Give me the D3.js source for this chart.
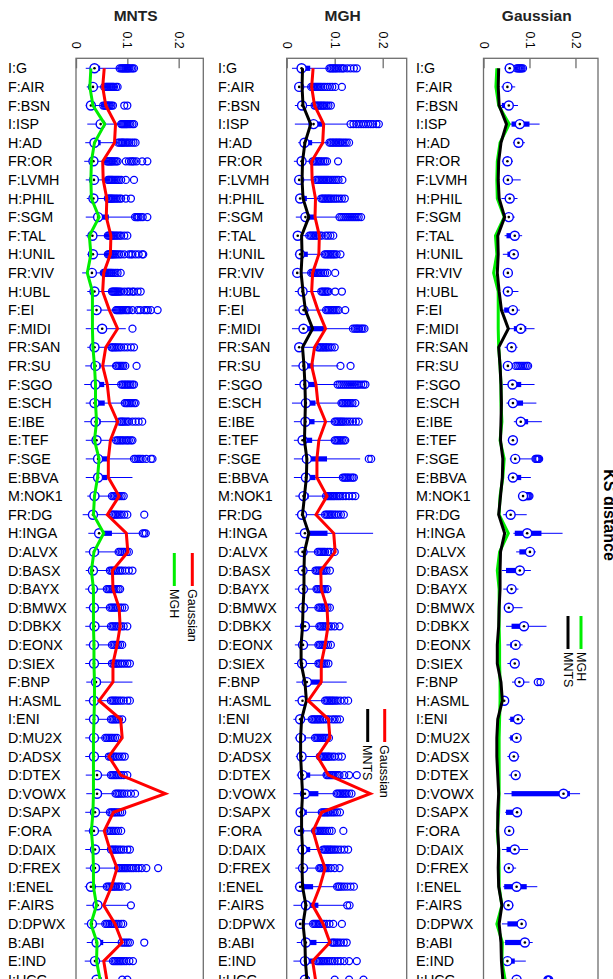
<!DOCTYPE html>
<html>
<head>
<meta charset="utf-8">
<script src="https://cdn.jsdelivr.net/npm/d3@7"></script>
<style>
  body { margin: 0; background: #fff; }
  svg { display: block; font-family: "Liberation Sans", Arial, Helvetica, sans-serif; }
</style>
</head>
<body>
<svg id="chart" width="613" height="979"></svg>
<script>
// stocks, top to bottom
var cats = ["I:G","F:AIR","F:BSN","I:ISP","H:AD","FR:OR","F:LVMH","H:PHIL","F:SGM","F:TAL",
  "H:UNIL","FR:VIV","H:UBL","F:EI","F:MIDI","FR:SAN","FR:SU","F:SGO","E:SCH","E:IBE",
  "E:TEF","F:SGE","E:BBVA","M:NOK1","FR:DG","H:INGA","D:ALVX","D:BASX","D:BAYX","D:BMWX",
  "D:DBKX","D:EONX","D:SIEX","F:BNP","H:ASML","I:ENI","D:MU2X","D:ADSX","D:DTEX","D:VOWX",
  "D:SAPX","F:ORA","D:DAIX","D:FREX","I:ENEL","F:AIRS","D:DPWX","B:ABI","E:IND","I:UCG"];

var ticks = [0, 0.1, 0.2];

// KS distance of each fitted model, one value per stock (the lines)
var mntsLine = [0.033,0.032,0.034,0.050,0.038,0.033,0.032,0.034,0.046,0.031,0.032,0.030,0.034,0.039,0.054,0.033,0.036,0.038,0.039,0.038,0.037,0.042,0.041,0.037,0.033,
  0.046,0.037,0.036,0.036,0.034,0.033,0.030,0.030,0.038,0.041,0.031,0.029,0.029,0.031,0.033,0.031,0.031,0.033,0.032,0.033,0.040,0.034,0.038,0.039,0.042];
var mghLine = [0.029,0.027,0.033,0.056,0.036,0.030,0.029,0.030,0.045,0.026,0.029,0.022,0.032,0.032,0.032,0.033,0.036,0.038,0.038,0.040,0.036,0.045,0.042,0.036,0.034,
  0.054,0.035,0.030,0.034,0.034,0.034,0.035,0.035,0.036,0.036,0.035,0.034,0.034,0.034,0.034,0.033,0.030,0.033,0.034,0.034,0.040,0.029,0.041,0.040,0.047];
var gaussLine = [0.055,0.052,0.058,0.077,0.075,0.052,0.053,0.060,0.059,0.068,0.067,0.054,0.052,0.065,0.081,0.058,0.052,0.061,0.065,0.081,0.067,0.063,0.063,0.084,0.061,
  0.098,0.101,0.071,0.072,0.084,0.086,0.080,0.072,0.072,0.045,0.087,0.090,0.064,0.087,0.174,0.073,0.055,0.066,0.080,0.069,0.054,0.076,0.090,0.054,0.060];

// boxplot stats [whisker lo, q1, median, q3, whisker hi] and outliers
var mntsStats = [
  [0.019,0.032,0.036,0.047,0.084],[0.021,0.030,0.033,0.036,0.053],[0.019,0.025,0.029,0.035,0.051],[0.022,0.042,0.048,0.055,0.087],[0.018,0.032,0.036,0.048,0.081],
  [0.016,0.030,0.034,0.038,0.058],[0.019,0.032,0.035,0.038,0.061],[0.021,0.030,0.034,0.038,0.061],[0.019,0.038,0.043,0.064,0.113],[0.019,0.029,0.032,0.036,0.061],
  [0.022,0.030,0.033,0.036,0.061],[0.012,0.027,0.031,0.035,0.053],[0.022,0.034,0.036,0.043,0.069],[0.021,0.036,0.040,0.049,0.077],[0.019,0.042,0.051,0.060,0.097],
  [0.022,0.034,0.036,0.042,0.068],[0.018,0.034,0.038,0.048,0.077],[0.016,0.034,0.038,0.055,0.087],[0.019,0.032,0.036,0.056,0.094],[0.016,0.034,0.038,0.048,0.084],
  [0.019,0.035,0.040,0.048,0.077],[0.019,0.035,0.043,0.064,0.110],[0.019,0.035,0.043,0.061,0.110],[0.022,0.032,0.036,0.045,0.069],[0.013,0.028,0.033,0.037,0.068],
  [0.024,0.043,0.045,0.070,0.126],[0.018,0.033,0.035,0.045,0.080],[0.019,0.030,0.033,0.038,0.063],[0.018,0.030,0.033,0.038,0.058],[0.019,0.031,0.035,0.042,0.064],
  [0.018,0.031,0.036,0.045,0.066],[0.019,0.031,0.035,0.040,0.068],[0.018,0.031,0.035,0.040,0.068],[0.020,0.034,0.039,0.048,0.110],[0.018,0.031,0.035,0.040,0.066],
  [0.018,0.031,0.035,0.040,0.066],[0.018,0.031,0.035,0.039,0.055],[0.018,0.031,0.035,0.040,0.062],[0.019,0.033,0.041,0.048,0.066],[0.020,0.033,0.041,0.050,0.075],
  [0.018,0.031,0.037,0.043,0.064],[0.017,0.030,0.035,0.040,0.060],[0.018,0.031,0.037,0.044,0.066],[0.019,0.032,0.037,0.046,0.080],[0.017,0.026,0.029,0.035,0.058],
  [0.020,0.037,0.042,0.050,0.102],[0.016,0.027,0.031,0.036,0.055],[0.021,0.036,0.040,0.053,0.086],[0.017,0.033,0.037,0.045,0.070],[0.020,0.034,0.040,0.050,0.080]];
var mntsOut = [
  [0.085,0.088,0.09,0.092,0.094,0.096,0.098,0.1,0.102,0.104,0.107,0.11,0.113],
  [0.055,0.058,0.06,0.062,0.064,0.066,0.068,0.07,0.072,0.074,0.078,0.081],
  [0.053,0.056,0.058,0.06,0.062,0.064,0.066,0.069,0.072,0.094,0.1],
  [0.088,0.09,0.092,0.094,0.096,0.098,0.1,0.103,0.106,0.11,0.113],
  [0.082,0.085,0.088,0.09,0.092,0.095,0.098,0.101,0.104,0.108,0.112,0.116],
  [0.06,0.062,0.064,0.066,0.068,0.07,0.072,0.075,0.078,0.081,0.097,0.103,0.107,0.11,0.113,0.118,0.129,0.139],
  [0.062,0.064,0.066,0.068,0.07,0.072,0.075,0.078,0.081,0.084,0.088,0.097,0.113],
  [0.062,0.064,0.066,0.068,0.07,0.072,0.075,0.078,0.081,0.085,0.088,0.097,0.107],
  [0.115,0.118,0.12,0.122,0.126,0.13,0.139],
  [0.062,0.064,0.066,0.068,0.07,0.072,0.075,0.078,0.081,0.085,0.088,0.094,0.1],
  [0.062,0.064,0.066,0.068,0.07,0.072,0.074,0.077,0.08,0.084,0.088,0.094,0.103,0.107,0.11,0.116,0.122,0.129,0.131],
  [0.054,0.056,0.058,0.06,0.062,0.064,0.066,0.068,0.07,0.073,0.077,0.081,0.087],
  [0.07,0.072,0.074,0.076,0.078,0.08,0.082,0.085,0.088,0.094,0.1,0.104,0.11,0.113,0.12,0.126],
  [0.078,0.08,0.082,0.084,0.086,0.088,0.09,0.093,0.097,0.1,0.103,0.11,0.12,0.125,0.133,0.137,0.14,0.146,0.159],
  [0.110],
  [0.069,0.071,0.074,0.077,0.08,0.084,0.088,0.094,0.1,0.107,0.113],
  [0.078,0.08,0.083,0.086,0.089,0.092,0.096,0.118],
  [0.088,0.091,0.094,0.097,0.1,0.103,0.106,0.11,0.113],
  [0.095,0.098,0.1,0.103,0.106,0.109,0.113,0.116],
  [0.085,0.088,0.09,0.093,0.096,0.1,0.103,0.11,0.116,0.122,0.129],
  [0.078,0.081,0.084,0.087,0.09,0.093,0.097,0.1,0.103,0.107,0.11],
  [0.113,0.116,0.12,0.123,0.126,0.13,0.137,0.146,0.149],
  [],
  [0.07,0.073,0.076,0.079,0.082,0.085,0.089,0.093],
  [0.07,0.072,0.075,0.078,0.081,0.085,0.089,0.094,0.1,0.133],
  [0.13,0.133,0.136],
  [0.083,0.086,0.089,0.092,0.095,0.099,0.103],
  [0.066,0.069,0.072,0.075,0.078,0.082,0.086,0.09,0.096,0.103,0.11],
  [0.06,0.063,0.066,0.069,0.072,0.075,0.079,0.083,0.086],
  [0.066,0.069,0.072,0.075,0.078,0.082,0.086,0.09,0.095],
  [0.068,0.071,0.074,0.077,0.08,0.084,0.088,0.093,0.1],
  [0.07,0.073,0.076,0.079,0.082,0.086,0.09],
  [0.07,0.073,0.076,0.079,0.082,0.086,0.09,0.095,0.1,0.105],
  [],
  [0.068,0.071,0.074,0.077,0.08,0.084,0.088,0.093,0.1,0.105],
  [0.068,0.071,0.074,0.077,0.08,0.084,0.09],
  [0.057,0.06,0.063,0.066,0.069,0.072,0.076,0.08],
  [0.064,0.067,0.07,0.073,0.076,0.08,0.085,0.09,0.095],
  [0.068,0.071,0.074,0.077,0.08,0.084,0.088,0.093,0.1],
  [0.077,0.08,0.083,0.086,0.09,0.094,0.1,0.107,0.115],
  [0.066,0.069,0.072,0.075,0.078,0.082,0.086,0.09],
  [0.062,0.065,0.068,0.071,0.074,0.078,0.082,0.088],
  [0.068,0.071,0.074,0.077,0.08,0.084,0.088,0.093,0.1,0.105],
  [0.082,0.085,0.088,0.091,0.094,0.097,0.1,0.104,0.108,0.112,0.117,0.122,0.128,0.137,0.16],
  [0.06,0.063,0.066,0.069,0.072,0.075,0.078,0.082,0.085,0.089,0.1],
  [0.107],
  [0.057,0.06,0.063,0.066,0.069,0.072,0.075,0.079,0.083,0.088,0.092],
  [0.089,0.093,0.097,0.101,0.105,0.133],
  [0.072,0.075,0.078,0.081,0.084,0.087,0.09,0.094,0.098,0.104,0.111],
  [0.09,0.1]];

var mghStats = [
  [0.011,0.028,0.031,0.049,0.087],[0.018,0.024,0.026,0.032,0.049],[0.017,0.027,0.032,0.035,0.056],[0.017,0.046,0.056,0.074,0.129],[0.024,0.032,0.037,0.053,0.087],
  [0.015,0.028,0.031,0.035,0.053],[0.015,0.024,0.026,0.032,0.060],[0.018,0.026,0.028,0.042,0.070],[0.019,0.033,0.039,0.060,0.108],[0.015,0.020,0.023,0.028,0.046],
  [0.017,0.025,0.028,0.044,0.077],[0.011,0.018,0.022,0.028,0.049],[0.017,0.030,0.033,0.039,0.070],[0.017,0.032,0.035,0.042,0.080],[0.011,0.028,0.035,0.080,0.136],
  [0.017,0.024,0.026,0.035,0.063],[0.010,0.030,0.035,0.056,0.108],[0.017,0.032,0.037,0.060,0.105],[0.011,0.034,0.040,0.060,0.112],[0.015,0.035,0.039,0.058,0.098],
  [0.015,0.030,0.033,0.053,0.098],[0.015,0.032,0.042,0.084,0.153],[0.015,0.035,0.040,0.060,0.115],[0.018,0.030,0.035,0.046,0.080],[0.018,0.028,0.032,0.038,0.078],
  [0.018,0.036,0.038,0.085,0.180],[0.016,0.030,0.033,0.040,0.062],[0.016,0.030,0.033,0.040,0.058],[0.017,0.030,0.034,0.040,0.060],[0.017,0.030,0.034,0.042,0.064],
  [0.017,0.032,0.038,0.046,0.066],[0.017,0.030,0.034,0.040,0.064],[0.016,0.029,0.032,0.038,0.064],[0.020,0.035,0.042,0.073,0.125],[0.017,0.030,0.033,0.038,0.078],
  [0.014,0.025,0.028,0.033,0.050],[0.017,0.026,0.029,0.040,0.057],[0.019,0.028,0.031,0.036,0.066],[0.021,0.030,0.033,0.049,0.080],[0.014,0.034,0.038,0.066,0.100],
  [0.021,0.026,0.029,0.042,0.070],[0.017,0.024,0.026,0.031,0.056],[0.021,0.030,0.033,0.049,0.074],[0.018,0.030,0.034,0.042,0.066],[0.017,0.026,0.028,0.055,0.102],
  [0.014,0.036,0.040,0.066,0.122],[0.021,0.026,0.028,0.034,0.053],[0.021,0.036,0.040,0.062,0.090],[0.014,0.034,0.038,0.055,0.060],[0.018,0.032,0.038,0.048,0.070]];
var mghOut = [
  [0.089,0.092,0.095,0.098,0.101,0.104,0.108,0.112,0.116,0.119,0.126,0.133,0.14,0.146],
  [0.051,0.054,0.057,0.06,0.063,0.066,0.069,0.072,0.076,0.08,0.085,0.09,0.095,0.101,0.115],
  [0.058,0.061,0.064,0.067,0.07,0.073,0.076,0.079,0.083,0.087,0.092],
  [0.133,0.139,0.145,0.15,0.155,0.16,0.165,0.17,0.175,0.18,0.187,0.192],
  [0.089,0.092,0.095,0.098,0.101,0.104,0.107,0.11,0.113,0.117,0.121,0.125,0.13],
  [0.054,0.057,0.06,0.063,0.066,0.069,0.072,0.076,0.08,0.084,0.107],
  [0.061,0.064,0.067,0.07,0.073,0.076,0.079,0.082,0.085,0.088,0.092,0.096,0.1,0.104,0.108,0.116],
  [0.072,0.075,0.078,0.081,0.084,0.087,0.09,0.093,0.097,0.101,0.105,0.11,0.115,0.121],
  [0.11,0.114,0.118,0.122,0.126,0.13,0.134,0.138,0.142,0.146,0.15,0.155],
  [0.047,0.05,0.053,0.056,0.059,0.062,0.065,0.069,0.073,0.081,0.086,0.091,0.097],
  [0.079,0.082,0.085,0.088,0.091,0.094,0.097,0.1,0.104,0.112],
  [0.051,0.054,0.057,0.06,0.063,0.066,0.069,0.072,0.076,0.08,0.085,0.101],
  [0.072,0.075,0.078,0.081,0.084,0.087,0.101,0.115],
  [0.082,0.085,0.088,0.091,0.094,0.097,0.1,0.104,0.108,0.122],
  [0.138,0.142,0.145,0.148,0.151,0.155,0.158,0.162],
  [0.065,0.068,0.071,0.074,0.077,0.08,0.083,0.086,0.09,0.094,0.1],
  [0.112,0.133],
  [0.106,0.11,0.114,0.118,0.122,0.126,0.13,0.134,0.138,0.142,0.146,0.15,0.155,0.16,0.164],
  [0.114,0.117,0.12,0.123,0.126,0.129,0.133,0.137,0.143],
  [0.1,0.103,0.106,0.109,0.112,0.115,0.118,0.122,0.127,0.132,0.138,0.144,0.15],
  [0.1,0.103,0.106,0.109,0.112,0.115,0.119,0.122],
  [0.171,0.176],
  [0.117,0.12,0.123,0.126,0.129,0.133,0.137,0.14],
  [0.082,0.085,0.088,0.091,0.094,0.097,0.1,0.104,0.108,0.112,0.117,0.123,0.13,0.137,0.143],
  [0.08,0.083,0.086,0.089,0.092,0.095,0.099,0.103,0.108,0.113,0.119],
  [],
  [0.065,0.068,0.071,0.074,0.077,0.08,0.085,0.09,0.1],
  [0.06,0.063,0.066,0.069,0.072,0.075,0.079,0.083,0.09],
  [0.062,0.065,0.068,0.071,0.074,0.077,0.08,0.085],
  [0.066,0.069,0.072,0.075,0.078,0.081,0.085,0.09],
  [0.068,0.071,0.074,0.077,0.08,0.084,0.088,0.093,0.1,0.11],
  [0.066,0.069,0.072,0.075,0.078,0.082,0.086,0.092],
  [0.066,0.069,0.072,0.075,0.078,0.082,0.087],
  [],
  [0.08,0.083,0.086,0.089,0.092,0.095,0.098,0.102,0.106,0.112,0.12,0.128],
  [0.052,0.055,0.058,0.061,0.064,0.067,0.07,0.074,0.078,0.083,0.088,0.095,0.1,0.105,0.111],
  [0.059,0.062,0.065,0.068,0.071,0.074,0.077,0.08,0.084,0.088],
  [0.069,0.072,0.075,0.078,0.081,0.084,0.087,0.09,0.095,0.1,0.108,0.115],
  [0.083,0.086,0.089,0.092,0.095,0.098,0.102,0.106,0.11,0.12,0.13,0.146],
  [0.104,0.107,0.11,0.113,0.116,0.119,0.122,0.125,0.13,0.135],
  [0.073,0.076,0.079,0.082,0.085,0.088,0.092,0.096,0.1,0.105,0.111],
  [0.059,0.062,0.065,0.068,0.071,0.074,0.077,0.08,0.084,0.089,0.094,0.118],
  [0.076,0.079,0.082,0.085,0.088,0.091,0.094,0.098,0.102,0.107,0.113,0.12,0.128],
  [0.068,0.071,0.074,0.077,0.08,0.083,0.087,0.092,0.1,0.11],
  [0.105,0.108,0.111,0.115,0.12,0.126,0.133,0.14],
  [0.126,0.131],
  [0.055,0.058,0.061,0.064,0.067,0.07,0.074,0.078,0.083,0.089,0.097,0.115],
  [0.094,0.097,0.1,0.104,0.108,0.113,0.119,0.125],
  [0.063,0.066,0.069,0.072,0.075,0.078,0.082,0.086,0.09,0.095,0.1,0.106,0.112,0.12,0.13,0.146],
  [0.1,0.13,0.16]];

var gaussStats = [
  [0.046,0.053,0.057,0.062,0.068],[0.039,0.048,0.052,0.056,0.069],[0.037,0.040,0.055,0.058,0.075],[0.057,0.061,0.079,0.100,0.122],[0.064,0.073,0.076,0.080,0.090],
  [0.040,0.049,0.052,0.055,0.064],[0.042,0.050,0.053,0.058,0.081],[0.039,0.053,0.057,0.060,0.074],[0.046,0.052,0.055,0.058,0.068],[0.046,0.050,0.068,0.070,0.084],
  [0.042,0.052,0.066,0.068,0.076],[0.046,0.051,0.053,0.056,0.061],[0.042,0.050,0.053,0.058,0.076],[0.042,0.045,0.064,0.066,0.079],[0.053,0.066,0.081,0.093,0.111],
  [0.046,0.056,0.061,0.064,0.074],[0.046,0.050,0.053,0.057,0.062],[0.042,0.058,0.063,0.082,0.111],[0.050,0.060,0.064,0.086,0.115],[0.066,0.076,0.081,0.097,0.127],
  [0.053,0.060,0.064,0.067,0.075],[0.057,0.064,0.069,0.075,0.105],[0.053,0.062,0.064,0.082,0.103],[0.078,0.083,0.086,0.088,0.090],[0.043,0.052,0.059,0.066,0.094],
  [0.065,0.068,0.095,0.126,0.172],[0.071,0.078,0.101,0.104,0.114],[0.040,0.049,0.079,0.080,0.103],[0.043,0.055,0.061,0.064,0.076],[0.045,0.051,0.055,0.060,0.085],
  [0.049,0.061,0.088,0.090,0.137],[0.050,0.058,0.070,0.072,0.085],[0.052,0.058,0.068,0.070,0.078],[0.062,0.070,0.078,0.080,0.100],[0.040,0.042,0.045,0.048,0.050],
  [0.055,0.058,0.075,0.077,0.090],[0.055,0.058,0.072,0.074,0.080],[0.052,0.062,0.066,0.070,0.078],[0.055,0.062,0.070,0.072,0.080],[0.045,0.061,0.174,0.188,0.210],
  [0.047,0.049,0.073,0.075,0.081],[0.045,0.052,0.056,0.059,0.065],[0.040,0.050,0.068,0.070,0.097],[0.047,0.051,0.055,0.058,0.071],[0.043,0.045,0.072,0.094,0.117],
  [0.049,0.051,0.054,0.057,0.065],[0.040,0.052,0.083,0.085,0.087],[0.046,0.047,0.090,0.092,0.107],[0.043,0.049,0.052,0.068,0.092],[0.050,0.065,0.072,0.080,0.100]];
var gaussOut = [
  [0.072,0.075,0.077,0.079,0.081,0.083,0.086],[],[],[],[],
  [],[],[],[],[],
  [],[],[],[],[],
  [],[0.07,0.074,0.078,0.082,0.086,0.09,0.094,0.097],[],[],[],
  [],[0.113,0.115,0.117,0.119,0.121],[],[0.092,0.094,0.096,0.098,0.1],[],
  [],[],[],[],[],
  [],[],[],[0.118,0.124],[],
  [],[],[],[],[],
  [],[],[],[],[],
  [],[],[],[],[0.139,0.141,0.143]];

var blue = "#0000ff", red = "#ff0000", green = "#00ee00", black = "#000000";

var panels = [
  {title: "MNTS", labelX: 8, range: [76, 203.3], domain: [0, 0.248], stats: mntsStats, out: mntsOut,
   lines: [{v: mghLine, c: green}, {v: gaussLine, c: red}],
   legend: {y: 553, items: [{name: "MGH", c: green, dx: -29}, {name: "Gaussian", c: red, dx: -11}]}},
  {title: "MGH", labelX: 218, range: [286.7, 406.7], domain: [0, 0.25], stats: mghStats, out: mghOut,
   lines: [{v: mntsLine, c: black}, {v: gaussLine, c: red}],
   legend: {y: 709, items: [{name: "MNTS", c: black, dx: -39}, {name: "Gaussian", c: red, dx: -22}]}},
  {title: "Gaussian", labelX: 416, range: [483.5, 598], domain: [0, 0.249], stats: gaussStats, out: gaussOut,
   lines: [{v: mghLine, c: green}, {v: mntsLine, c: black}],
   legend: {y: 616, items: [{name: "MNTS", c: black, dx: -30}, {name: "MGH", c: green, dx: -17}]}}
];

var svg = d3.select("#chart");
var frameTop = 58.3, frameBottom = 990;
var y = d3.scalePoint().domain(cats).range([68.3, 68.3 + 18.6 * (cats.length - 1)]);

panels.forEach(function(p) {
  var x = d3.scaleLinear().domain(p.domain).range(p.range);
  var g = svg.append("g").attr("class", "panel");
  var cx = (p.range[0] + p.range[1]) / 2;

  g.append("text")
    .attr("x", cx - 4).attr("y", 21)
    .attr("text-anchor", "middle")
    .attr("font-size", 15.5).attr("font-weight", "bold").attr("fill", "#222")
    .text(p.title);

  // row names
  g.selectAll(".lab").data(cats).enter().append("text")
    .attr("class", "lab")
    .attr("x", p.labelX).attr("y", function(d) { return y(d); })
    .attr("dy", "0.36em")
    .attr("font-size", 14.3).attr("fill", "#000")
    .text(function(d) { return d; });

  g.append("rect")
    .attr("x", p.range[0]).attr("y", frameTop)
    .attr("width", p.range[1] - p.range[0]).attr("height", frameBottom - frameTop)
    .attr("fill", "none").attr("stroke", "#6e6e6e").attr("stroke-width", 1.3);

  var ax = g.append("g")
    .attr("transform", "translate(0," + frameTop + ")")
    .call(d3.axisTop(x).tickValues(ticks).tickSize(-10).tickFormat(d3.format("")));
  ax.select(".domain").remove();
  ax.selectAll("line").attr("stroke", "#6e6e6e").attr("stroke-width", 1.3);
  ax.selectAll("text")
    .attr("x", 0).attr("y", 0).attr("dy", "0.35em")
    .attr("transform", "translate(0,-9.5) rotate(90)")
    .attr("text-anchor", "end")
    .attr("font-size", 12.5).attr("fill", "#000")
    .attr("font-family", "Liberation Sans, Arial, sans-serif");

  var rows = g.selectAll(".bw").data(p.stats).enter().append("g").attr("class", "bw")
    .attr("transform", function(d, i) { return "translate(0," + y(cats[i]) + ")"; });

  rows.append("line")
    .attr("x1", function(d) { return x(d[0]); }).attr("x2", function(d) { return x(d[4]); })
    .attr("stroke", blue).attr("stroke-width", 1);
  rows.append("rect")
    .attr("x", function(d) { return x(d[1]); }).attr("y", -2.6)
    .attr("width", function(d) { return Math.max(0.5, x(d[3]) - x(d[1])); }).attr("height", 5.2)
    .attr("fill", blue);
  rows.selectAll(".o").data(function(d, i) { return p.out[i]; }).enter().append("circle")
    .attr("class", "o")
    .attr("cx", function(d) { return x(d); }).attr("r", 3.5)
    .attr("fill", "none").attr("stroke", blue).attr("stroke-width", 1.25);
  rows.append("circle")
    .attr("cx", function(d) { return x(d[2]); }).attr("r", 4.5)
    .attr("fill", "#fff").attr("stroke", blue).attr("stroke-width", 1.4);
  rows.append("circle")
    .attr("cx", function(d) { return x(d[2]); }).attr("r", 1.3)
    .attr("fill", "#000");

  p.lines.forEach(function(l) {
    var line = d3.line()
      .x(function(d) { return x(d); })
      .y(function(d, i) { return y(cats[i]); });
    g.append("path").datum(l.v)
      .attr("d", line)
      .attr("fill", "none").attr("stroke", l.c).attr("stroke-width", 3)
      .attr("stroke-linejoin", "miter");
  });

  // legend, read sideways like the rest of the figure
  p.legend.items.forEach(function(it) {
    var lx = p.range[1] + it.dx;
    g.append("line")
      .attr("x1", lx).attr("x2", lx)
      .attr("y1", p.legend.y).attr("y2", p.legend.y + 33)
      .attr("stroke", it.c).attr("stroke-width", 3);
    g.append("text")
      .attr("transform", "translate(" + lx + "," + (p.legend.y + 36) + ") rotate(90)")
      .attr("dy", "0.35em")
      .attr("font-size", 12.5).attr("fill", "#000")
      .text(it.name);
  });
});

svg.append("text")
  .attr("transform", "translate(604,515) rotate(90)")
  .attr("text-anchor", "middle")
  .attr("font-size", 16).attr("font-weight", "bold").attr("fill", "#000")
  .text("KS distance");
</script>
</body>
</html>
